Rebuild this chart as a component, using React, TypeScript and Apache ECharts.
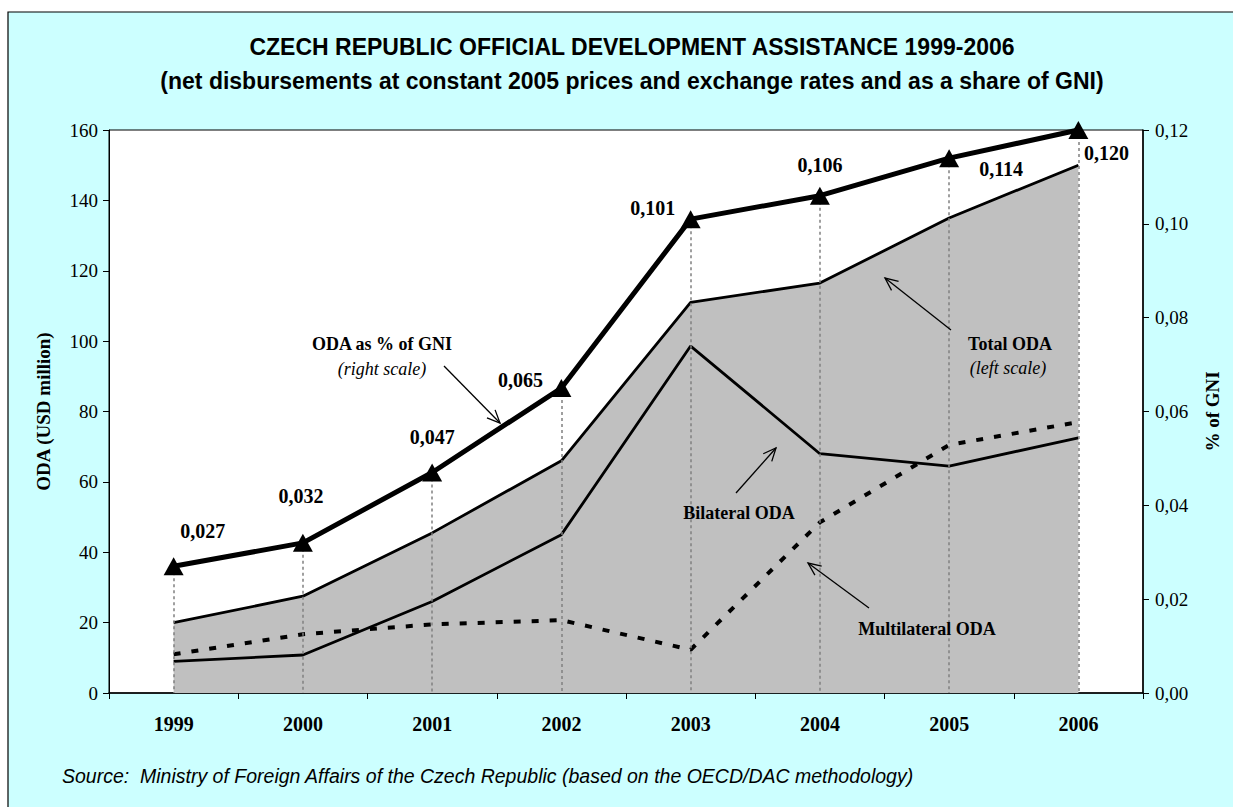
import React, { useEffect, useRef } from "react";
import * as echarts from "echarts";

const years = ["1999", "2000", "2001", "2002", "2003", "2004", "2005", "2006"];
const totalOda = [20, 27.5, 45.5, 66, 111, 116.5, 135, 150];
const bilateralOda = [9, 10.8, 26, 45, 98.6, 68, 64.5, 72.5];
const multilateralOda = [11, 16.7, 19.5, 20.7, 12.3, 48.5, 70.5, 77];
const gniShare = [0.027, 0.032, 0.047, 0.065, 0.101, 0.106, 0.114, 0.12];
const leftTicks = { min: 0, max: 160, interval: 20 };
const rightTicks = { min: 0, max: 0.12, interval: 0.02 };

// label offsets (layout only)
const gniLabelOffsets = [
  [29, -35], [-2, -47], [0, -35], [-41, -8], [-38, -11], [0, -31], [52, 11], [28, 23],
];

const SERIF = "'Liberation Serif', 'Times New Roman', serif";
const SANS = "'Liberation Sans', Arial, sans-serif";

function arrow(x1: number, y1: number, x2: number, y2: number) {
  const ang = Math.atan2(y2 - y1, x2 - x1);
  const L = 14;
  const a = (24 * Math.PI) / 180;
  const p1 = [x2 - L * Math.cos(ang - a), y2 - L * Math.sin(ang - a)];
  const p2 = [x2 - L * Math.cos(ang + a), y2 - L * Math.sin(ang + a)];
  return {
    type: "group",
    z: 100,
    children: [
      { type: "line", z: 100, shape: { x1, y1, x2, y2 }, style: { stroke: "#000", lineWidth: 1.3 } },
      {
        type: "polyline",
        z: 100,
        shape: { points: [p1, [x2, y2], p2] },
        style: { stroke: "#000", lineWidth: 1.3, fill: null },
      },
    ],
  };
}

function txt(x: number, y: number, text: string, font: any) {
  return {
    type: "text",
    z: 100,
    x,
    y,
    style: { text, textAlign: "center", textVerticalAlign: "middle", fill: "#000", ...font },
  };
}

export default function App() {
  const ref = useRef<HTMLDivElement>(null);
  useEffect(() => {
    const chart = echarts.init(ref.current!, null, { renderer: "svg" });
    const fmt = (v: number) => v.toFixed(2).replace(".", ",");
    const option: any = {
      animation: false,
      backgroundColor: "#fff",
      grid: {
        left: 109,
        right: 90,
        top: 130,
        bottom: 114,
        show: true,
        backgroundColor: "#fff",
        borderColor: "#000",
        borderWidth: 1,
      },
      graphic: [
        {
          type: "rect",
          z: -10,
          silent: true,
          shape: { x: 8, y: 12, width: 1240, height: 810 },
          style: { fill: "#CCFFFF", stroke: "#000", lineWidth: 1.2 },
        },
        txt(632, 47, "CZECH REPUBLIC OFFICIAL DEVELOPMENT ASSISTANCE 1999-2006", {
          font: `bold 23px ${SANS}`,
        }),
        txt(632, 81, "(net disbursements at constant 2005 prices and exchange rates and as a share of GNI)", {
          font: `bold 23px ${SANS}`,
        }),
        {
          type: "text",
          z: 100,
          x: 62,
          y: 776,
          style: {
            text: "Source:  Ministry of Foreign Affairs of the Czech Republic (based on the OECD/DAC methodology)",
            textVerticalAlign: "middle",
            fill: "#000",
            font: `italic 19.5px ${SANS}`,
          },
        },
        txt(382, 344, "ODA as % of GNI", { font: `bold 18px ${SERIF}` }),
        txt(382, 369, "(right scale)", { font: `italic 18px ${SERIF}` }),
        arrow(444, 366, 500, 423),
        txt(1010, 344, "Total ODA", { font: `bold 18px ${SERIF}` }),
        txt(1008, 368, "(left scale)", { font: `italic 18px ${SERIF}` }),
        arrow(951, 330, 885, 278),
        txt(739, 513, "Bilateral ODA", { font: `bold 18px ${SERIF}` }),
        arrow(736, 493, 776, 448),
        txt(927, 629, "Multilateral ODA", { font: `bold 18px ${SERIF}` }),
        arrow(869, 608, 808, 563),
      ],
      xAxis: {
        type: "category",
        data: years,
        boundaryGap: true,
        axisLine: { lineStyle: { color: "#000", width: 1.5 } },
        axisTick: { show: true, length: 6, lineStyle: { color: "#000" } },
        axisLabel: {
          color: "#000",
          fontFamily: SERIF,
          fontWeight: "bold",
          fontSize: 20,
          margin: 21,
        },
        splitLine: { show: false },
      },
      yAxis: [
        {
          type: "value",
          ...leftTicks,
          name: "ODA (USD million)",
          nameLocation: "middle",
          nameRotate: 90,
          nameGap: 56,
          nameTextStyle: { color: "#000", fontFamily: SERIF, fontWeight: "bold", fontSize: 19 },
          axisLine: { show: true, lineStyle: { color: "#000" } },
          axisTick: { show: true, length: 6, lineStyle: { color: "#000" } },
          axisLabel: { color: "#000", fontFamily: SERIF, fontSize: 19, margin: 11 },
          splitLine: { show: false },
        },
        {
          type: "value",
          ...rightTicks,
          position: "right",
          name: "% of GNI",
          nameLocation: "middle",
          nameRotate: 90,
          nameGap: 60,
          nameTextStyle: { color: "#000", fontFamily: SERIF, fontWeight: "bold", fontSize: 19 },
          axisLine: { show: true, lineStyle: { color: "#000", width: 1.5 } },
          axisTick: { show: true, length: 6, lineStyle: { color: "#000" } },
          axisLabel: { color: "#000", fontFamily: SERIF, fontSize: 19, margin: 12, formatter: fmt },
          splitLine: { show: false },
        },
      ],
      series: [
        {
          name: "Total ODA",
          type: "line",
          yAxisIndex: 0,
          data: totalOda,
          symbol: "none",
          z: 2,
          lineStyle: { color: "#000", width: 2.8 },
          areaStyle: { color: "#C0C0C0", opacity: 1 },
        },
        {
          name: "Bilateral ODA",
          type: "line",
          yAxisIndex: 0,
          data: bilateralOda,
          symbol: "none",
          z: 3,
          lineStyle: { color: "#000", width: 2.8 },
        },
        {
          name: "Multilateral ODA",
          type: "line",
          yAxisIndex: 0,
          data: multilateralOda,
          symbol: "none",
          z: 3,
          lineStyle: { color: "#000", width: 4, type: [7, 11] },
        },
        {
          name: "ODA as % of GNI",
          type: "line",
          yAxisIndex: 1,
          z: 5,
          data: gniShare.map((v, i) => ({
            value: v,
            label: { offset: gniLabelOffsets[i] },
          })),
          symbol: "triangle",
          symbolSize: [20, 18],
          itemStyle: { color: "#000" },
          lineStyle: { color: "#000", width: 5 },
          label: {
            show: true,
            position: "inside",
            color: "#000",
            fontFamily: SERIF,
            fontWeight: "bold",
            fontSize: 20,
            formatter: (p: any) => p.value.toFixed(3).replace(".", ","),
          },
          markLine: {
            silent: true,
            symbol: "none",
            label: { show: false },
            lineStyle: { color: "#808080", type: [3, 3], width: 1.5 },
            data: gniShare.map((v, i) => [
              { coord: [i, v] },
              { coord: [i, 0] },
            ]),
          },
        },
      ],
    };
    chart.setOption(option);
    return () => chart.dispose();
  }, []);
  return (
    <div
      ref={ref}
      style={{ position: "absolute", left: 0, top: 0, width: 1233, height: 807 }}
    />
  );
}
